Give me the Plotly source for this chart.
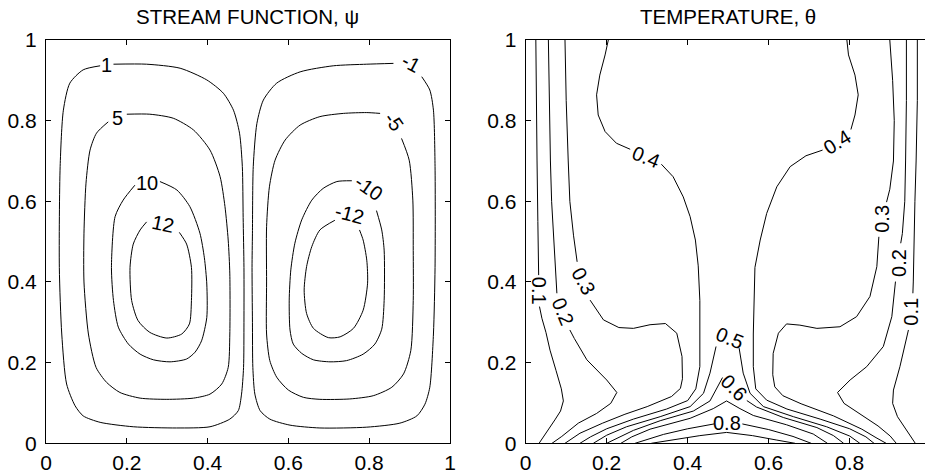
import plotly.graph_objects as go

# ---------------------------------------------------------------------------
# Stream function psi: contour paths (x, y) on the unit cavity.
# Each closed path starts and ends at the gap left for its inline label.
# ---------------------------------------------------------------------------
psi_p1 = [(0.167, 0.940), (0.249, 0.940), (0.332, 0.930), (0.398, 0.901), (0.439, 0.868),
          (0.464, 0.826), (0.479, 0.769), (0.486, 0.686), (0.488, 0.560), (0.490, 0.436),
          (0.490, 0.300), (0.489, 0.188), (0.484, 0.122), (0.476, 0.081), (0.455, 0.060),
          (0.406, 0.041), (0.323, 0.038), (0.216, 0.041), (0.134, 0.052), (0.092, 0.068),
          (0.072, 0.093), (0.051, 0.147), (0.039, 0.271), (0.033, 0.436), (0.035, 0.686),
          (0.043, 0.826), (0.059, 0.893), (0.092, 0.926), (0.134, 0.936)]
psi_p5 = [(0.200, 0.816), (0.257, 0.816), (0.315, 0.806), (0.365, 0.777), (0.406, 0.727),
          (0.431, 0.661), (0.443, 0.587), (0.451, 0.504), (0.455, 0.420), (0.455, 0.271),
          (0.451, 0.188), (0.435, 0.147), (0.406, 0.122), (0.365, 0.112), (0.299, 0.109),
          (0.233, 0.112), (0.183, 0.126), (0.150, 0.151), (0.124, 0.188), (0.105, 0.271),
          (0.094, 0.400), (0.094, 0.521), (0.099, 0.645), (0.109, 0.727), (0.125, 0.769),
          (0.154, 0.797)]
psi_p10 = [(0.282, 0.649), (0.324, 0.628), (0.356, 0.587), (0.381, 0.521), (0.392, 0.460),
           (0.398, 0.395), (0.398, 0.312), (0.385, 0.254), (0.369, 0.226), (0.348, 0.209),
           (0.307, 0.202), (0.266, 0.207), (0.233, 0.221), (0.204, 0.246), (0.179, 0.288),
           (0.167, 0.354), (0.162, 0.436), (0.171, 0.562), (0.191, 0.603), (0.220, 0.640)]
psi_p12 = [(0.330, 0.523), (0.348, 0.494), (0.360, 0.436), (0.360, 0.354), (0.355, 0.296),
           (0.336, 0.271), (0.299, 0.261), (0.257, 0.275), (0.228, 0.304), (0.212, 0.354),
           (0.208, 0.436), (0.216, 0.494), (0.233, 0.529), (0.249, 0.549)]
psi_m1 = [(0.860, 0.942), (0.794, 0.940), (0.711, 0.936), (0.629, 0.921), (0.571, 0.893),
          (0.538, 0.851), (0.522, 0.793), (0.513, 0.686), (0.511, 0.521), (0.510, 0.436),
          (0.511, 0.300), (0.512, 0.188), (0.517, 0.122), (0.530, 0.081), (0.554, 0.060),
          (0.604, 0.045), (0.678, 0.038), (0.794, 0.040), (0.876, 0.050), (0.918, 0.068),
          (0.938, 0.097), (0.950, 0.139), (0.959, 0.271), (0.963, 0.436), (0.963, 0.686),
          (0.959, 0.826), (0.950, 0.876), (0.930, 0.909)]
psi_m5 = [(0.827, 0.818), (0.794, 0.820), (0.736, 0.818), (0.678, 0.810), (0.629, 0.789),
          (0.592, 0.752), (0.567, 0.702), (0.553, 0.636), (0.546, 0.537), (0.546, 0.400),
          (0.546, 0.271), (0.554, 0.205), (0.571, 0.164), (0.600, 0.132), (0.637, 0.114),
          (0.678, 0.109), (0.752, 0.110), (0.810, 0.118), (0.856, 0.139), (0.885, 0.172),
          (0.903, 0.230), (0.909, 0.354), (0.909, 0.478), (0.908, 0.603), (0.899, 0.702),
          (0.880, 0.756)]
psi_m10 = [(0.757, 0.651), (0.720, 0.649), (0.686, 0.632), (0.658, 0.603), (0.633, 0.554),
           (0.616, 0.496), (0.606, 0.430), (0.602, 0.355), (0.604, 0.281), (0.612, 0.246),
           (0.633, 0.223), (0.662, 0.207), (0.703, 0.202), (0.744, 0.205), (0.785, 0.221),
           (0.814, 0.246), (0.831, 0.283), (0.837, 0.354), (0.837, 0.479), (0.831, 0.529),
           (0.818, 0.577)]
psi_m12 = [(0.715, 0.553), (0.678, 0.529), (0.658, 0.488), (0.645, 0.438), (0.639, 0.380),
           (0.645, 0.322), (0.662, 0.285), (0.699, 0.262), (0.728, 0.264), (0.761, 0.285),
           (0.785, 0.330), (0.796, 0.397), (0.794, 0.454), (0.785, 0.504), (0.776, 0.529)]

psi_levels = [1, 5, 10, 12, -1, -5, -10, -12]
psi_paths = [psi_p1, psi_p5, psi_p10, psi_p12, psi_m1, psi_m5, psi_m10, psi_m12]
psi_label_x = [0.150, 0.176, 0.249, 0.290, 0.903, 0.862, 0.799, 0.750]
psi_label_y = [0.938, 0.806, 0.645, 0.545, 0.942, 0.797, 0.632, 0.568]

# ---------------------------------------------------------------------------
# Temperature theta: contour segments; None marks the gap at a label.
# ---------------------------------------------------------------------------
th01_left = [(0.025, 1.0), (0.026, 0.85), (0.028, 0.70), (0.030, 0.55), (0.032, 0.417), None,
             (0.034, 0.339), (0.040, 0.31), (0.050, 0.275), (0.060, 0.231), (0.075, 0.18),
             (0.088, 0.135), (0.093, 0.105), (0.086, 0.080), (0.072, 0.058), (0.052, 0.028),
             (0.033, 0.0)]
th01_right = [(0.967, 1.0), (0.967, 0.85), (0.964, 0.70), (0.961, 0.60), (0.957, 0.40),
              (0.956, 0.372), None, (0.945, 0.281), (0.941, 0.264), (0.924, 0.190),
              (0.908, 0.132), (0.906, 0.099), (0.918, 0.066), (0.940, 0.033), (0.962, 0.0)]
th02_left = [(0.056, 1.0), (0.058, 0.85), (0.061, 0.70), (0.064, 0.60), (0.069, 0.50),
             (0.077, 0.372), None, (0.109, 0.281), (0.120, 0.260), (0.151, 0.207),
             (0.200, 0.157), (0.225, 0.126), (0.210, 0.099), (0.175, 0.074), (0.130, 0.050),
             (0.089, 0.017), (0.065, 0.0)]
th02_right = [(0.940, 1.0), (0.940, 0.85), (0.938, 0.70), (0.936, 0.60), (0.930, 0.52),
              (0.926, 0.496), None, (0.913, 0.401), (0.904, 0.314), (0.883, 0.240),
              (0.842, 0.190), (0.801, 0.157), (0.770, 0.126), (0.786, 0.099), (0.825, 0.074),
              (0.870, 0.043), (0.900, 0.018), (0.915, 0.0)]
th03_left = [(0.097, 1.0), (0.100, 0.85), (0.105, 0.70), (0.109, 0.60), (0.118, 0.516),
             (0.127, 0.450), None, (0.159, 0.355), (0.175, 0.330), (0.192, 0.306),
             (0.230, 0.287), (0.266, 0.285), (0.307, 0.294), (0.345, 0.297), (0.373, 0.273),
             (0.386, 0.215), (0.387, 0.160), (0.382, 0.136), (0.360, 0.116), (0.300, 0.091),
             (0.245, 0.072), (0.190, 0.050), (0.134, 0.025), (0.097, 0.0)]
th03_right = [(0.899, 1.0), (0.906, 0.90), (0.910, 0.80), (0.908, 0.70), (0.899, 0.630),
              (0.891, 0.598), None, (0.872, 0.512), (0.867, 0.438), (0.850, 0.364),
              (0.817, 0.314), (0.776, 0.289), (0.719, 0.285), (0.677, 0.293), (0.644, 0.296),
              (0.624, 0.273), (0.611, 0.223), (0.610, 0.170), (0.615, 0.140), (0.635, 0.118),
              (0.680, 0.098), (0.760, 0.068), (0.830, 0.035), (0.865, 0.014), (0.890, 0.0)]
th04_left = [(0.204, 1.0), (0.196, 0.963), (0.183, 0.913), (0.175, 0.864), (0.179, 0.814),
             (0.196, 0.773), (0.224, 0.744), (0.258, 0.729), None, (0.335, 0.692),
             (0.364, 0.661), (0.389, 0.611), (0.406, 0.562), (0.419, 0.504), (0.426, 0.44),
             (0.430, 0.354), (0.430, 0.190), (0.420, 0.135), (0.400, 0.106), (0.348, 0.085),
             (0.266, 0.060), (0.200, 0.036), (0.160, 0.016), (0.134, 0.0)]
th04_right = [(0.793, 1.0), (0.797, 0.963), (0.813, 0.913), (0.821, 0.864), (0.813, 0.814),
              (0.803, 0.778), None, (0.733, 0.727), (0.692, 0.713), (0.653, 0.686),
              (0.620, 0.636), (0.595, 0.570), (0.579, 0.504), (0.566, 0.436), (0.562, 0.271),
              (0.562, 0.190), (0.568, 0.135), (0.595, 0.107), (0.645, 0.085), (0.727, 0.060),
              (0.800, 0.036), (0.840, 0.016), (0.860, 0.0)]
th05 = [(0.167, 0.0), (0.200, 0.020), (0.249, 0.041), (0.332, 0.066), (0.406, 0.091),
        (0.439, 0.124), (0.455, 0.174), (0.470, 0.240), None, (0.527, 0.236), (0.537, 0.174),
        (0.554, 0.124), (0.587, 0.091), (0.661, 0.066), (0.743, 0.041), (0.800, 0.018),
        (0.825, 0.0)]
th06 = [(0.200, 0.0), (0.232, 0.016), (0.266, 0.032), (0.332, 0.056), (0.414, 0.080),
        (0.455, 0.105), (0.472, 0.135), (0.486, 0.163), None, (0.546, 0.106), (0.570, 0.090),
        (0.636, 0.064), (0.719, 0.039), (0.760, 0.019), (0.785, 0.0)]
th07 = [(0.235, 0.0), (0.262, 0.016), (0.307, 0.035), (0.406, 0.062), (0.463, 0.086),
        (0.496, 0.105), (0.529, 0.086), (0.562, 0.069), (0.644, 0.046), (0.710, 0.023),
        (0.745, 0.0)]
th08 = [(0.270, 0.0), (0.340, 0.022), (0.400, 0.036), (0.465, 0.048), None, (0.535, 0.048),
        (0.600, 0.034), (0.660, 0.017), (0.705, 0.0)]
th09 = [(0.310, 0.0), (0.370, 0.010), (0.430, 0.019), (0.496, 0.027), (0.560, 0.019),
        (0.620, 0.008), (0.665, 0.0)]

theta_levels = [0.1, 0.1, 0.2, 0.2, 0.3, 0.3, 0.4, 0.4, 0.5, 0.6, 0.7, 0.8, 0.9]
theta_paths = [th01_left, th01_right, th02_left, th02_right, th03_left, th03_right,
               th04_left, th04_right, th05, th06, th07, th08, th09]
# labelled levels and where their labels sit
theta_label_level = [0.1, 0.1, 0.2, 0.2, 0.3, 0.3, 0.4, 0.4, 0.5, 0.6, 0.8]
theta_label_x = [0.033, 0.951, 0.091, 0.920, 0.143, 0.879, 0.297, 0.769, 0.504, 0.515, 0.498]
theta_label_y = [0.378, 0.326, 0.327, 0.448, 0.403, 0.556, 0.709, 0.748, 0.262, 0.137, 0.051]

# label orientation (degrees, clockwise) for each inline label
psi_label_angle = [0, 0, 0, 12, 28, 55, 35, 15]
theta_label_angle = [90, -90, 68, -90, 62, -90, 22, -32, 22, 45, 0]

FONT = "Liberation Sans, Arial, Helvetica, sans-serif"
LINE = dict(color="black", width=1)
LABEL_SIZE = 20
TICK_SIZE = 21
TITLE_SIZE = 20.5


def split(path):
    xs = [None if p is None else p[0] for p in path]
    ys = [None if p is None else p[1] for p in path]
    return xs, ys


def fmt(v):
    return f"{v:g}"


fig = go.Figure()

for lvl, path in zip(psi_levels, psi_paths):
    xs, ys = split(path)
    fig.add_trace(go.Scatter(x=xs, y=ys, mode="lines", line=dict(LINE, shape="spline", smoothing=0.7),
                             name=fmt(lvl), xaxis="x", yaxis="y", hoverinfo="skip",
                             showlegend=False, connectgaps=False))

for lvl, path in zip(theta_levels, theta_paths):
    xs, ys = split(path)
    fig.add_trace(go.Scatter(x=xs, y=ys, mode="lines", line=LINE, name=fmt(lvl),
                             xaxis="x2", yaxis="y2", hoverinfo="skip",
                             showlegend=False, connectgaps=False))

label_font = dict(family=FONT, size=LABEL_SIZE, color="black")
annotations = []
for lvl, x, y, ang in zip(psi_levels, psi_label_x, psi_label_y, psi_label_angle):
    annotations.append(dict(x=x, y=y, xref="x", yref="y", text=fmt(lvl), showarrow=False,
                            textangle=ang, xanchor="center", yanchor="middle", font=label_font))
for lvl, x, y, ang in zip(theta_label_level, theta_label_x, theta_label_y, theta_label_angle):
    annotations.append(dict(x=x, y=y, xref="x2", yref="y2", text=fmt(lvl), showarrow=False,
                            textangle=ang, xanchor="center", yanchor="middle", font=label_font))

# panel geometry (pixels of the 925 x 474 page)
W, H = 925, 474
left_dom = [46 / W, 450 / W]
right_dom = [525.7 / W, 1.0]
y_dom = [(H - 443.3) / H, (H - 40) / H]

title_font = dict(family=FONT, size=TITLE_SIZE, color="black")
annotations.append(dict(x=(46 + 202) / W, y=1 - 16 / H, xref="paper", yref="paper",
                        text="STREAM FUNCTION, ψ", showarrow=False,
                        xanchor="center", yanchor="middle", font=title_font))
annotations.append(dict(x=(525.7 + 202.5) / W, y=1 - 16 / H, xref="paper", yref="paper",
                        text="TEMPERATURE, θ", showarrow=False,
                        xanchor="center", yanchor="middle", font=title_font))

ticks = [0, 0.2, 0.4, 0.6, 0.8, 1]
axis_common = dict(showgrid=False, zeroline=False, showline=True, linecolor="black", linewidth=1,
                   ticks="inside", ticklen=5, tickwidth=1, tickcolor="black", automargin=False,
                   tickvals=ticks, ticktext=[fmt(t) for t in ticks],
                   tickfont=dict(family=FONT, size=TICK_SIZE, color="black"))

fig.update_layout(
    width=W, height=H,
    margin=dict(l=0, r=0, t=0, b=0, autoexpand=False),
    paper_bgcolor="white", plot_bgcolor="white",
    xaxis=dict(axis_common, domain=left_dom, range=[0, 1], anchor="y", mirror="ticks",
               ticklabelstandoff=0),
    yaxis=dict(axis_common, domain=y_dom, range=[0, 1], anchor="x", mirror="ticks",
               ticklabelstandoff=4),
    xaxis2=dict(axis_common, domain=right_dom, range=[0, 399.3 / 405], anchor="y2", mirror="ticks",
                ticklabelstandoff=0),
    yaxis2=dict(axis_common, domain=y_dom, range=[0, 1], anchor="x2", mirror=False,
                ticklabelstandoff=4),
    annotations=annotations,
)

fig.write_html("out.html")
